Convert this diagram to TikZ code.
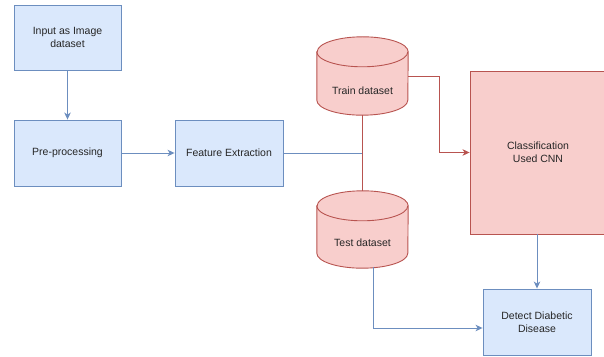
\documentclass[tikz,border=0pt]{standalone}
\usepackage{fontspec}
\setmainfont{Liberation Sans}
\usetikzlibrary{arrows.meta,calc}

\definecolor{bluefill}{HTML}{DAE8FC}
\definecolor{bluestroke}{HTML}{6C8EBF}
\definecolor{redfill}{HTML}{F8CECC}
\definecolor{redstroke}{HTML}{B85450}
\definecolor{inkgray}{HTML}{262626}

\tikzset{
  bluebox/.style={draw=bluestroke, fill=bluefill, line width=0.9pt, inner sep=2pt,
    align=center, font=\fontsize{10.5}{13}\selectfont, text=inkgray},
  redbox/.style={draw=redstroke, fill=redfill, line width=0.9pt, inner sep=2pt,
    align=center, font=\fontsize{10.5}{13}\selectfont, text=inkgray},
  dbframe/.style={draw=none, minimum width=91pt, inner sep=0pt},
  dblabel/.style={font=\fontsize{10.5}{13}\selectfont, text=inkgray, inner sep=1pt},
  blueline/.style={draw=bluestroke, line width=0.9pt},
  redline/.style={draw=redstroke, line width=0.9pt},
  tip/.style={-{Stealth[length=7pt,width=6.5pt,inset=2pt]}},
}

% cylinder drawn over an empty frame node
\newcommand\dbcylinder[1]{%
  \path[fill=redfill, draw=redstroke, line width=0.9pt]
    ($(#1.north west)+(0,-15)$) -- ($(#1.south west)+(0,15)$)
    arc[start angle=180, end angle=360, x radius=45.5pt, y radius=15pt]
    -- ($(#1.north east)+(0,-15)$)
    arc[start angle=0, end angle=180, x radius=45.5pt, y radius=15pt] -- cycle;
  \draw[redline] ($(#1.north west)+(0,-15)$)
    arc[start angle=180, end angle=360, x radius=45.5pt, y radius=15pt];
}

\begin{document}
\begin{tikzpicture}[x=1pt, y=1pt]
\useasboundingbox (0,0) rectangle (604,356);
\begin{scope}
\clip (0,0) rectangle (604,356);

% process boxes
\node[bluebox, minimum width=107pt, minimum height=65pt] (inp) at (67.5,318.5) {Input as Image\\dataset};
\node[bluebox, minimum width=107pt, minimum height=66pt] (pre) at (67.5,203) {Pre-processing};
\node[bluebox, minimum width=108pt, minimum height=66pt] (fe) at (229,203) {Feature Extraction};
\node[redbox, minimum width=136pt, minimum height=163pt] (cls) at (538,203.5) {Classification\\Used CNN};
\node[bluebox, minimum width=108pt, minimum height=66pt] (det) at (537,34) {Detect Diabetic\\Disease};

% datasets
\node[dbframe, minimum height=78pt] (train) at (362.5,280) {};
\node[dbframe, minimum height=77pt] (test) at (362.5,126.5) {};
\dbcylinder{train}
\dbcylinder{test}
\node[dblabel] (trainlbl) at ($(train.south)+(0,24)$) {Train dataset};
\node[dblabel] (testlbl) at ($(test.south)+(0,25)$) {Test dataset};

% connectors
\draw[blueline, tip] (inp) -- (pre);
\draw[blueline, tip] (pre) -- (fe);
\coordinate (junc) at (train.south |- fe.east);
\draw[blueline] (fe.east) -- (junc);
\draw[redline] (train.south) -- (test.north);
\draw[redline, tip] (train.east) -- ++(31,0) |- (cls.west);
\coordinate (testout) at ($(test.south)+(10.5,1)$);
\coordinate (detin) at ($(det.west)+(0,-6)$);
\draw[blueline, tip] (testout) |- (detin);
\draw[blueline, tip] (det.north |- cls.south) -- (det.north);
\end{scope}
\end{tikzpicture}
\end{document}
